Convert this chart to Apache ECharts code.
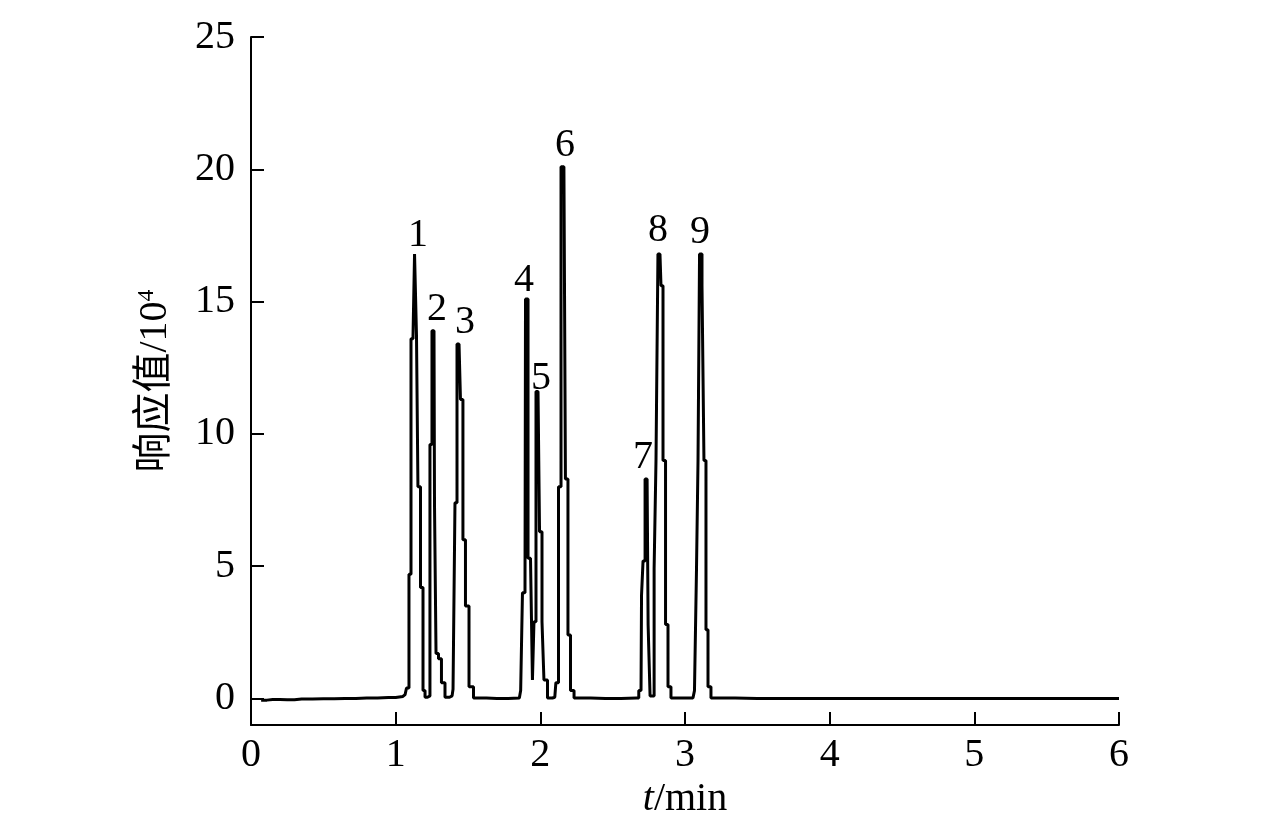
<!DOCTYPE html>
<html>
<head>
<meta charset="utf-8">
<script src="https://cdn.jsdelivr.net/npm/echarts@6/dist/echarts.min.js"></script>
<style>
  html, body { margin: 0; padding: 0; background: #fff; }
  #chart { width: 1276px; height: 817px; }
</style>
</head>
<body>
<div id="chart"></div>
<script>
// retention time (min) and detector response (x10^4)
const timeMin = [
  0.07, 0.15, 0.25, 0.35, 0.5, 0.65, 0.8, 0.95, 1.05,
  1.065, 1.085, 1.099, 1.113, 1.127, 1.134, 1.141, 1.147, 1.161, 1.182, 1.196, 1.21,
  1.23, 1.244, 1.258, 1.265, 1.272, 1.286, 1.306, 1.327, 1.355,
  1.39, 1.403, 1.417, 1.431, 1.438, 1.458, 1.472, 1.493, 1.521, 1.555,
  1.7, 1.855,
  1.873, 1.88, 1.894, 1.901, 1.908, 1.922, 1.942, 1.949,
  1.963, 1.977, 1.984, 2.005, 2.018, 2.032, 2.067, 2.1,
  2.115, 2.136, 2.15, 2.163, 2.184, 2.198, 2.219, 2.247,
  2.45, 2.665,
  2.696, 2.703, 2.717, 2.731, 2.738, 2.752, 2.765, 2.78,
  2.793, 2.806, 2.82, 2.827, 2.841, 2.855, 2.876, 2.889, 2.917,
  3.055, 3.076, 3.083, 3.097, 3.104, 3.111, 3.124, 3.138, 3.152, 3.166, 3.193,
  3.5, 4.5, 6.0
];
const response = [
  -0.06, -0.04, -0.05, -0.02, -0.01, 0.0, 0.02, 0.04, 0.08,
  0.15, 0.4, 4.7, 13.6, 13.7, 16.8, 16.8, 13.7, 8.0, 4.2, 0.3, 0.05,
  0.1, 9.6, 13.9, 13.9, 7.3, 1.7, 1.5, 0.6, 0.05,
  0.1, 0.35, 7.4, 13.4, 13.4, 11.3, 6.0, 3.5, 0.45, 0.02,
  0.0, 0.02,
  0.3, 4.0, 4.0, 15.1, 15.1, 5.3, 5.25, 0.7,
  2.9, 11.6, 11.6, 6.3, 2.9, 0.7, 0.02, 0.05,
  0.6, 8.0, 20.1, 20.1, 8.3, 2.4, 0.3, 0.02,
  0.0, 0.02,
  0.3, 3.9, 5.2, 8.3, 8.3, 2.8, 0.1, 0.1,
  4.9, 9.0, 16.8, 16.8, 15.6, 9.0, 2.8, 0.45, 0.02,
  0.02, 0.3, 4.9, 9.0, 16.8, 16.8, 15.6, 9.0, 2.6, 0.45, 0.02,
  0.0, 0.0, 0.0
];

// peak numbers and where they sit
const peakNames = ['1', '2', '3', '4', '5', '6', '7', '8', '9'];
const peakLabelT = [1.154, 1.285, 1.479, 1.887, 2.004, 2.17, 2.71, 2.813, 3.104];
const peakLabelV = [17.5, 14.7, 14.2, 15.8, 12.1, 20.9, 9.1, 17.7, 17.6];

const xTicks = [0, 1, 2, 3, 4, 5, 6];
const yTicks = [0, 5, 10, 15, 20, 25];

const serif = '"Liberation Serif", "Noto Sans CJK SC", serif';

const chart = echarts.init(document.getElementById('chart'));
chart.setOption({
  animation: false,
  backgroundColor: '#fff',
  grid: { left: 251, right: 157, top: 37, bottom: 92, outerBoundsMode: 'none', containLabel: false },
  xAxis: {
    type: 'value',
    min: 0,
    max: 6,
    interval: 1,
    name: '{i|t}/min',
    nameLocation: 'middle',
    nameGap: 52,
    nameTextStyle: {
      fontFamily: serif, fontSize: 40, color: '#000',
      rich: { i: { fontFamily: serif, fontSize: 40, fontStyle: 'italic', color: '#000' } }
    },
    axisLine: { onZero: false, lineStyle: { color: '#000', width: 2 } },
    axisTick: { inside: true, length: 13, lineStyle: { color: '#000', width: 2 }, customValues: xTicks },
    axisLabel: { customValues: xTicks, fontFamily: serif, fontSize: 40, color: '#000', margin: 10 },
    splitLine: { show: false }
  },
  yAxis: {
    type: 'value',
    min: -1,
    max: 25,
    name: '响应值/10{s|4}',
    nameLocation: 'middle',
    nameGap: 76,
    nameRotate: 90,
    nameTextStyle: {
      fontFamily: serif, fontSize: 40, color: '#000',
      rich: { s: { fontFamily: serif, fontSize: 24, color: '#000', verticalAlign: 'top', padding: [0, 0, 16, 0] } }
    },
    axisLine: { show: true, onZero: false, lineStyle: { color: '#000', width: 2 } },
    axisTick: { show: true, inside: true, length: 13, lineStyle: { color: '#000', width: 2 }, customValues: yTicks },
    axisLabel: { customValues: yTicks, fontFamily: serif, fontSize: 40, color: '#000', margin: 16 },
    splitLine: { show: false }
  },
  series: [
    {
      type: 'line',
      data: timeMin.map((t, i) => [t, response[i]]),
      step: 'middle',
      showSymbol: false,
      symbol: 'none',
      lineStyle: { color: '#000', width: 3 },
      z: 2
    },
    {
      type: 'scatter',
      data: peakLabelT.map((t, i) => [t, peakLabelV[i]]),
      symbolSize: 0,
      silent: true,
      itemStyle: { color: '#000', opacity: 1 },
      label: {
        show: true,
        position: 'inside',
        formatter: p => peakNames[p.dataIndex],
        fontFamily: serif,
        fontSize: 40,
        color: '#000',
        opacity: 1
      },
      z: 3
    }
  ]
});
</script>
</body>
</html>
